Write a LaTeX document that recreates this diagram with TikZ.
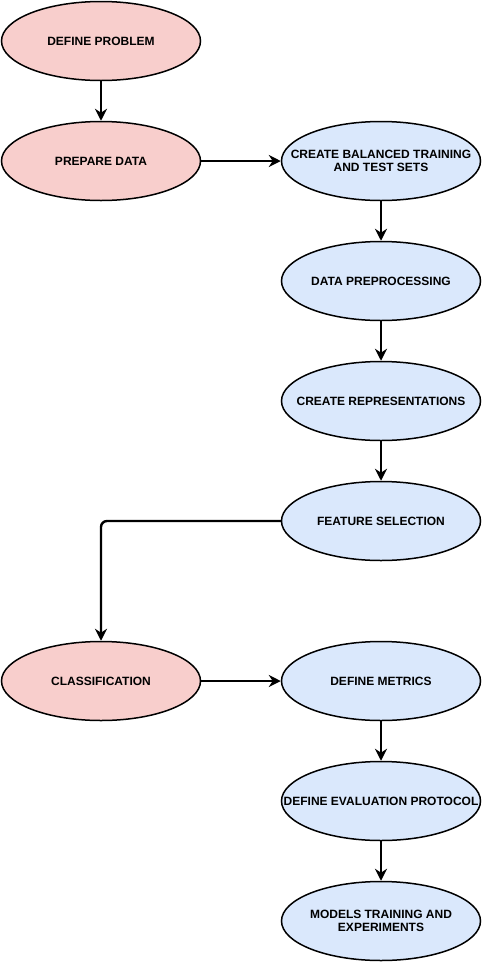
\documentclass[tikz,border=0pt]{standalone}
\usepackage{fontspec}
\setmainfont{Liberation Sans}
\usetikzlibrary{shapes.geometric,arrows.meta}
\definecolor{stepred}{HTML}{F8CECC}
\definecolor{stepblue}{HTML}{DAE8FC}
\tikzset{
  stage/.style={ellipse,draw=black,line width=1.5pt,minimum width=199pt,minimum height=79pt,
    inner xsep=-60pt,inner ysep=0pt,align=center,font=\fontsize{12}{13.5}\selectfont\bfseries},
  redstage/.style={stage,fill=stepred},
  bluestage/.style={stage,fill=stepblue},
  flow/.style={line width=2.4pt,-{Stealth[length=12pt,width=12pt,inset=4pt]}}
}
\begin{document}
\begin{tikzpicture}[x=1pt,y=-1pt]
  \useasboundingbox (0,0) rectangle (482,962);
  % left column
  \node[redstage] (problem) at (101,41) {DEFINE PROBLEM};
  \node[redstage] (prepare) at (101,161) {PREPARE DATA};
  \node[redstage] (classify) at (101,681) {CLASSIFICATION};
  % right column
  \node[bluestage] (sets) at (381,161) {CREATE BALANCED TRAINING\\AND TEST SETS};
  \node[bluestage] (preproc) at (381,281) {DATA PREPROCESSING};
  \node[bluestage] (repr) at (381,401) {CREATE REPRESENTATIONS};
  \node[bluestage] (features) at (381,521) {FEATURE SELECTION};
  \node[bluestage] (metrics) at (381,681) {DEFINE METRICS};
  \node[bluestage] (protocol) at (381,801) {DEFINE EVALUATION PROTOCOL};
  \node[bluestage] (models) at (381,921) {MODELS TRAINING AND\\EXPERIMENTS};

  \draw[flow] (problem) -- (prepare);
  \draw[flow] (prepare) -- (sets);
  \draw[flow] (sets) -- (preproc);
  \draw[flow] (preproc) -- (repr);
  \draw[flow] (repr) -- (features);
  \draw[flow,rounded corners=6pt] (features.west) -| (classify.north);
  \draw[flow] (classify) -- (metrics);
  \draw[flow] (metrics) -- (protocol);
  \draw[flow] (protocol) -- (models);
\end{tikzpicture}
\end{document}
